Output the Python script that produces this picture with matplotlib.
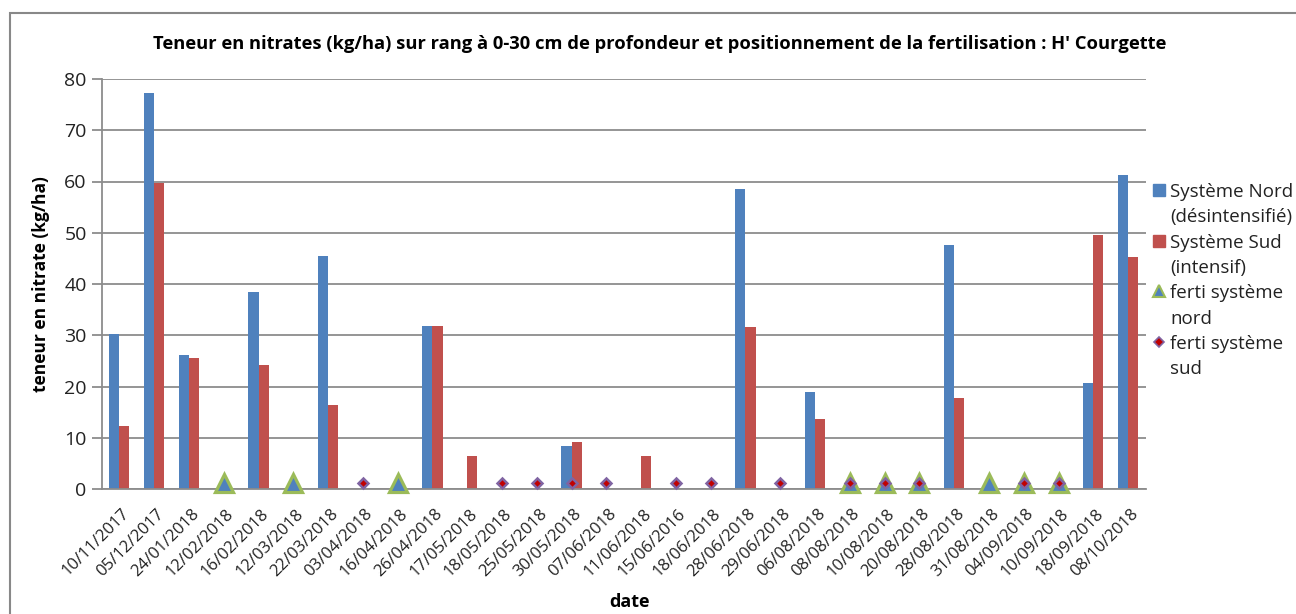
import numpy as np
import matplotlib
matplotlib.use("Agg")
import matplotlib.pyplot as plt
from matplotlib.patches import Rectangle
from matplotlib.lines import Line2D
import matplotlib.transforms as mtransforms

plt.rcParams['font.family'] = ['Open Sans', 'DejaVu Sans']

dates = ["10/11/2017", "05/12/2017", "24/01/2018", "12/02/2018", "16/02/2018",
         "12/03/2018", "22/03/2018", "03/04/2018", "16/04/2018", "26/04/2018",
         "17/05/2018", "18/05/2018", "25/05/2018", "30/05/2018", "07/06/2018",
         "11/06/2018", "15/06/2016", "18/06/2018", "28/06/2018", "29/06/2018",
         "06/08/2018", "08/08/2018", "10/08/2018", "20/08/2018", "28/08/2018",
         "31/08/2018", "04/09/2018", "10/09/2018", "18/09/2018", "08/10/2018"]

nord = [30.2, 77.2, 26.1, 0, 38.4, 0, 45.4, 0, 0, 31.9,
        0, 0, 0, 8.4, 0, 0, 0, 0, 58.5, 0,
        19.0, 0, 0, 0, 47.6, 0, 0, 0, 20.7, 61.3]
sud = [12.3, 59.8, 25.5, 0, 24.2, 0, 16.4, 0, 0, 31.9,
       6.5, 0, 0, 9.1, 0, 6.5, 0, 0, 31.7, 0,
       13.7, 0, 0, 0, 17.7, 0, 0, 0, 49.6, 45.2]
N = np.nan
ferti_nord = [N, N, N, 1.2, N, 1.2, N, N, 1.2, N,
              N, N, N, N, N, N, N, N, N, N,
              N, 1.2, 1.2, 1.2, N, 1.2, 1.2, 1.2, N, N]
ferti_sud = [N, N, N, N, N, N, N, 1.2, N, N,
             N, 1.2, 1.2, 1.2, 1.2, N, 1.2, 1.2, N, 1.2,
             N, 1.2, 1.2, 1.2, N, N, 1.2, 1.2, N, N]

legend_labels = ['Système Nord\n(désintensifié)', 'Système Sud\n(intensif)',
                 'ferti système\nnord', 'ferti système\nsud']

blue = '#4F81BD'
red = '#C0504D'
green = '#9BBB59'
purple = '#8064A2'
grid_c = '#8C8C8C'
txt_c = '#222222'

W, H = 1296, 614
fig = plt.figure(figsize=(W / 100, H / 100), dpi=100)

# chart frame
fig.patches.append(Rectangle((10 / W, -0.1), 1.2, 1 - 13 / H + 0.1,
                             transform=fig.transFigure, fill=False,
                             edgecolor='#888888', lw=1.5, zorder=0))

ax = fig.add_axes([102 / W, 1 - 489 / H, (1145.5 - 102) / W, (489 - 79) / H])

x = np.arange(len(dates)) + 0.5
bw = 0.29
ax.bar(x - bw, nord, width=bw, align='edge', color=blue, zorder=2)
ax.bar(x, sud, width=bw, align='edge', color=red, zorder=2)
ax.plot(x, ferti_nord, linestyle='none', marker='^', markersize=12.5,
        markerfacecolor=blue, markeredgecolor=green, markeredgewidth=2.3,
        zorder=3, clip_on=False)
ax.plot(x, ferti_sud, linestyle='none', marker='D', markersize=5.5,
        markerfacecolor='#C00000', markeredgecolor=purple, markeredgewidth=1.8,
        zorder=4, clip_on=False)

ax.set_xlim(0, len(dates))
ax.set_ylim(0, 80)
ax.set_yticks(np.arange(0, 81, 10))
ax.yaxis.grid(True, color=grid_c, lw=1.3, zorder=0)
ax.set_axisbelow(True)
for s in ['top', 'right']:
    ax.spines[s].set_visible(False)
for s in ['left', 'bottom']:
    ax.spines[s].set_color(grid_c)
    ax.spines[s].set_linewidth(1.3)
ax.tick_params(axis='y', length=7, width=1.3, color=grid_c, labelsize=14,
               pad=4, labelcolor=txt_c)
ax.tick_params(axis='x', length=0, labelsize=12, pad=12, labelcolor=txt_c)
ax.set_xticks(x)
ax.set_xticklabels(dates, rotation=45, ha='right', rotation_mode='anchor')
off = mtransforms.ScaledTranslation(2 / 100, 0, fig.dpi_scale_trans)
for lbl in ax.get_xticklabels():
    lbl.set_transform(lbl.get_transform() + off)

ax.set_ylabel('teneur en nitrate (kg/ha)', fontsize=12.5, fontweight='bold')
ax.yaxis.set_label_coords(-52 / (1145.5 - 102), 0.5)
fig.text(630 / W, 1 - 602 / H, 'date', fontsize=13, fontweight='bold',
         ha='center', va='center', color='black')
fig.text(660 / W, 1 - 44 / H,
         "Teneur en nitrates (kg/ha) sur rang à 0-30 cm de profondeur et positionnement de la fertilisation : H' Courgette",
         fontsize=13.2, fontweight='bold', ha='center', va='center')

# legend drawn manually (marker aligned with the first line of each entry)
line_h = 25.3
base0 = 197
handles_style = [
    dict(marker='s', markersize=9, markerfacecolor=blue, markeredgecolor=blue),
    dict(marker='s', markersize=9, markerfacecolor=red, markeredgecolor=red),
    dict(marker='^', markersize=8.5, markerfacecolor=blue, markeredgecolor=green,
         markeredgewidth=1.5),
    dict(marker='D', markersize=5, markerfacecolor='#C00000',
         markeredgecolor=purple, markeredgewidth=1.2),
]
for i, (lab, st) in enumerate(zip(legend_labels, handles_style)):
    yb = base0 + 2 * i * line_h
    fig.add_artist(Line2D([1159 / W], [1 - (yb - 7) / H], linestyle='none',
                          transform=fig.transFigure, **st))
    for j, part in enumerate(lab.split('\n')):
        fig.text(1170 / W, 1 - (yb + j * line_h) / H, part, fontsize=13.5,
                 ha='left', va='baseline', color=txt_c)

fig.savefig('out.png', dpi=100)
